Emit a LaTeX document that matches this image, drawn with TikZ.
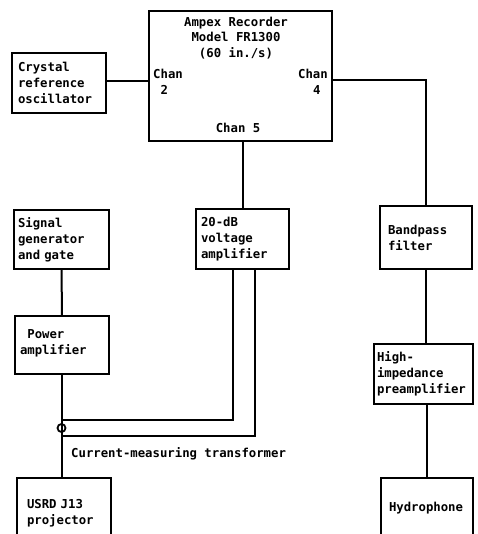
\documentclass[tikz,border=0pt]{standalone}
\usepackage{fontspec}
\setmainfont{DejaVu Sans Mono}
\begin{document}
\begin{tikzpicture}[x=1pt,y=-1pt,
  every node/.style={font=\fontsize{12.3}{16}\selectfont\bfseries},
  blk/.style={draw, line width=2pt, rectangle, anchor=north west, align=left, inner ysep=0pt},
  lbl/.style={inner sep=0pt},
  wire/.style={line width=2pt}]
\useasboundingbox (0,0) rectangle (477,534);
\clip (0,0) rectangle (477,534);
% recorder
\node[draw, line width=2pt, rectangle, anchor=north west, minimum width=183pt, minimum height=130pt, inner sep=0pt] (amp) at (148,10) {};
\node[lbl, align=center, font=\fontsize{12.3}{15.2}\selectfont\bfseries] (title) at (236,38) {Ampex Recorder\\Model FR1300\\(60 in./s)};
\node[lbl, align=left, anchor=west] (ch2) at (153,82) {Chan\\\hspace*{0.6em}2};
\node[lbl, align=right, anchor=east] (ch4) at (328,82) {Chan\\4\hspace*{0.6em}};
\node[lbl] (ch5) at (238,128) {Chan 5};
% boxes
\node[blk, minimum width=94pt, minimum height=60pt, text width=82pt, inner xsep=6pt] (crys) at (11,52) {Crystal\\reference\\oscillator};
\node[blk, minimum width=95pt, minimum height=59pt, text width=87pt, inner xsep=4pt] (sig) at (13,209) {Signal\\generator\\and gate};
\node[blk, minimum width=93pt, minimum height=60pt, text width=83pt, inner xsep=5pt] (volt) at (195,208) {20-dB\\voltage\\amplifier};
\node[blk, minimum width=92pt, minimum height=63pt, text width=76pt, inner xsep=8pt] (band) at (379,205) {Bandpass\\filter};
\node[blk, minimum width=94pt, minimum height=58pt, text width=84pt, inner xsep=5pt, text depth=21pt] (pow) at (14,315) {\hspace*{0.6em}Power\\amplifier};
\node[blk, minimum width=99pt, minimum height=60pt, text width=93pt, inner xsep=3pt] (high) at (373,343) {High-\\impedance\\preamplifier};
\node[blk, minimum width=94pt, minimum height=70pt, text width=74pt, inner xsep=10pt] (proj) at (16,477) {USRD J13\\projector};
\node[blk, minimum width=92pt, minimum height=60pt, text width=76pt, inner xsep=8pt] (hydro) at (380,477) {Hydrophone};
% transformer
\coordinate (tr) at (62,428);
\node[lbl, anchor=west] (cmt) at (71,454) {Current-measuring transformer};
% connectors
\draw[wire] (crys.east |- 0,81) -- (amp.west |- 0,81);
\draw[wire] ([yshift=-4pt]amp.east) -| (band.north);
\draw[wire] (volt.north) -- (volt.north |- amp.south);
\draw[wire] (sig) -- (pow);
\draw[wire] (tr |- pow.south) -- (tr |- proj.north);
\draw[wire] ([xshift=-9.5pt]volt.south) |- ([yshift=8pt]tr);
\draw[wire] ([xshift=12.5pt]volt.south) |- ([yshift=-8pt]tr);
\draw[line width=1.8pt] ([xshift=-0.5pt]tr) circle (4pt);
\draw[wire] (band.south) -- (band.south |- high.north);
\draw[wire] (hydro.north |- high.south) -- (hydro.north);
\end{tikzpicture}
\end{document}
